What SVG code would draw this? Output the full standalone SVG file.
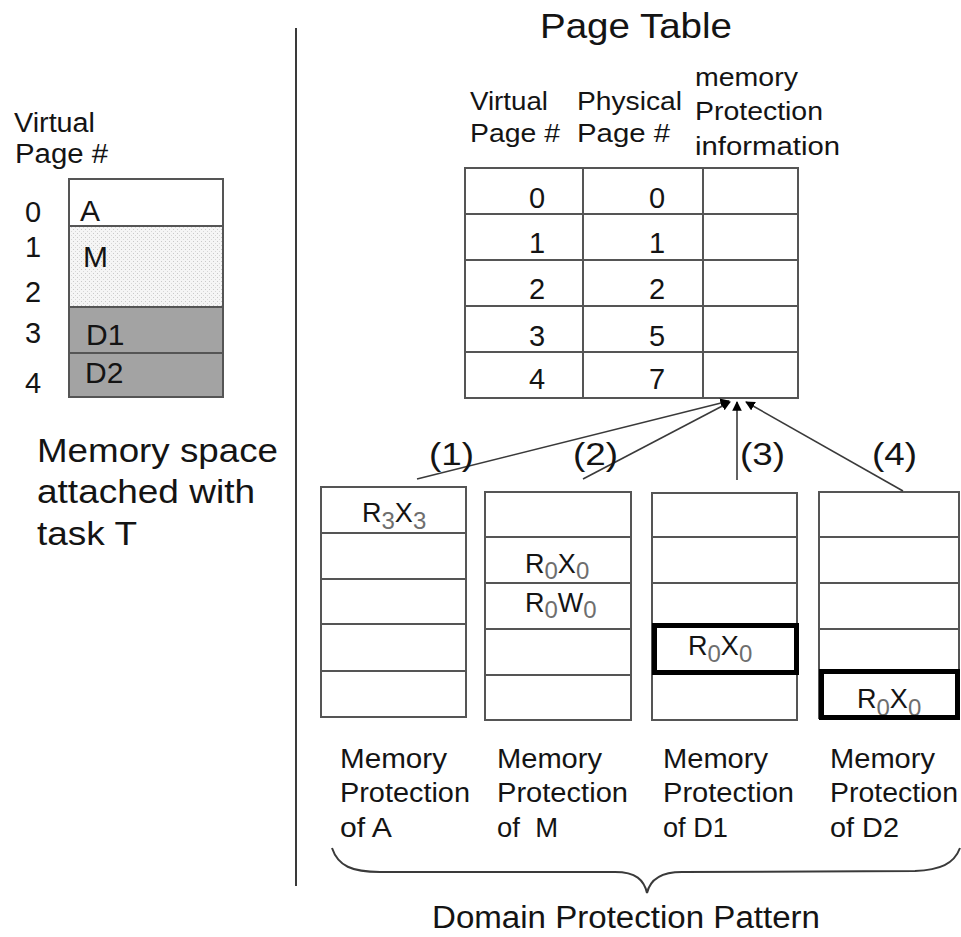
<svg xmlns="http://www.w3.org/2000/svg" width="961" height="937" viewBox="0 0 961 937">
  <style>
    text { font-family: "Liberation Sans", Arial, sans-serif; fill: #141414; }
    .cell { fill: #ffffff; stroke: #555555; stroke-width: 2; }
    .grid { stroke: #555555; stroke-width: 2; fill: none; }
    .bold { fill: none; stroke: #000000; stroke-width: 5; }
    .hdr { font-size: 26px; }
    .lbl { font-size: 27px; }
    .num { font-size: 29px; text-anchor: middle; }
    .perm { font-size: 27px; }
    .sub { font-size: 24px; fill: #6e6e6e; }
    .conn { stroke: #3a3a3a; stroke-width: 1.6; fill: none; marker-end: url(#arrow); }
  </style>
  <defs>
    <marker id="arrow" viewBox="0 0 10 10" refX="9" refY="5" markerWidth="6" markerHeight="6" orient="auto" markerUnits="strokeWidth">
      <path d="M0,0 L10,5 L0,10 z" fill="#000000"/>
    </marker>
    <pattern id="stipple" width="4" height="4" patternUnits="userSpaceOnUse">
      <rect width="4" height="4" fill="#f5f5f5"/>
      <rect x="1" y="1" width="1" height="1" fill="#c9c9c9"/>
      <rect x="3" y="3" width="1" height="1" fill="#d6d6d6"/>
    </pattern>
  </defs>

  <rect width="961" height="937" fill="#ffffff"/>

  <!-- Memory space of task T -->
  <g id="memory-space">
    <text class="lbl" x="14" y="132" textLength="81" lengthAdjust="spacingAndGlyphs">Virtual</text>
    <text class="lbl" x="15" y="163" textLength="93" lengthAdjust="spacingAndGlyphs">Page #</text>
    <text class="num" x="33" y="222">0</text>
    <text class="num" x="33" y="257">1</text>
    <text class="num" x="33" y="302">2</text>
    <text class="num" x="33" y="343">3</text>
    <text class="num" x="33" y="393">4</text>
    <rect x="69" y="179" width="154" height="47" fill="#ffffff"/>
    <rect x="69" y="226" width="154" height="81" fill="url(#stipple)"/>
    <rect x="69" y="307" width="154" height="90" fill="#a3a3a3"/>
    <path class="grid" d="M69,179 H223 V397 H69 Z M69,226 H223 M69,307 H223 M69,353 H223"/>
    <text x="80" y="221" font-size="30">A</text>
    <text x="83" y="267" font-size="30">M</text>
    <text x="86" y="345" font-size="30">D1</text>
    <text x="85" y="383" font-size="30">D2</text>
    <text x="37" y="462" font-size="34" textLength="241" lengthAdjust="spacingAndGlyphs">Memory space</text>
    <text x="37" y="503" font-size="34" textLength="218" lengthAdjust="spacingAndGlyphs">attached with</text>
    <text x="37" y="545" font-size="34" textLength="100" lengthAdjust="spacingAndGlyphs">task T</text>
  </g>

  <!-- divider -->
  <line x1="296" y1="28" x2="296" y2="886" stroke="#3a3a3a" stroke-width="2"/>

  <!-- Page table -->
  <g id="page-table">
    <text x="540" y="38" font-size="35" textLength="192" lengthAdjust="spacingAndGlyphs">Page Table</text>
    <text class="hdr" x="470" y="110" textLength="78" lengthAdjust="spacingAndGlyphs">Virtual</text>
    <text class="hdr" x="470" y="142" textLength="90" lengthAdjust="spacingAndGlyphs">Page #</text>
    <text class="hdr" x="577" y="110" textLength="105" lengthAdjust="spacingAndGlyphs">Physical</text>
    <text class="hdr" x="577" y="142" textLength="93" lengthAdjust="spacingAndGlyphs">Page #</text>
    <text class="hdr" x="695" y="86" textLength="103" lengthAdjust="spacingAndGlyphs">memory</text>
    <text class="hdr" x="695" y="120" textLength="128" lengthAdjust="spacingAndGlyphs">Protection</text>
    <text class="hdr" x="695" y="155" textLength="145" lengthAdjust="spacingAndGlyphs">information</text>
    <rect class="cell" x="465" y="168" width="333" height="230"/>
    <path class="grid" d="M583,168 V398 M703,168 V398 M465,214 H798 M465,260 H798 M465,306 H798 M465,352 H798"/>
    <text class="num" x="537" y="208">0</text><text class="num" x="657" y="208">0</text>
    <text class="num" x="537" y="253">1</text><text class="num" x="657" y="253">1</text>
    <text class="num" x="537" y="299">2</text><text class="num" x="657" y="299">2</text>
    <text class="num" x="537" y="346">3</text><text class="num" x="657" y="346">5</text>
    <text class="num" x="537" y="389">4</text><text class="num" x="657" y="389">7</text>
  </g>

  <!-- Protection tables -->
  <g id="protection-a">
    <rect class="cell" x="321" y="487" width="145" height="230"/>
    <path class="grid" d="M321,533 H466 M321,579 H466 M321,624 H466 M321,671 H466"/>
    <text class="perm" x="362" y="522">R<tspan class="sub" dy="7">3</tspan><tspan dy="-7">X</tspan><tspan class="sub" dy="7">3</tspan></text>
    <text class="lbl" x="340" y="768" textLength="107" lengthAdjust="spacingAndGlyphs">Memory</text>
    <text class="lbl" x="340" y="802" textLength="130" lengthAdjust="spacingAndGlyphs">Protection</text>
    <text class="lbl" x="340" y="837" textLength="52" lengthAdjust="spacingAndGlyphs">of A</text>
  </g>

  <g id="protection-m">
    <rect class="cell" x="485" y="492" width="146" height="228"/>
    <path class="grid" d="M485,537 H631 M485,583 H631 M485,629 H631 M485,675 H631"/>
    <text class="perm" x="525" y="573">R<tspan class="sub" dy="6">0</tspan><tspan dy="-6">X</tspan><tspan class="sub" dy="6">0</tspan></text>
    <text class="perm" x="525" y="612">R<tspan class="sub" dy="6">0</tspan><tspan dy="-6">W</tspan><tspan class="sub" dy="6">0</tspan></text>
    <text class="lbl" x="497" y="768" textLength="105" lengthAdjust="spacingAndGlyphs">Memory</text>
    <text class="lbl" x="497" y="802" textLength="131" lengthAdjust="spacingAndGlyphs">Protection</text>
    <text class="lbl" x="497" y="837" textLength="61" lengthAdjust="spacingAndGlyphs" xml:space="preserve">of  M</text>
  </g>

  <g id="protection-d1">
    <rect class="cell" x="652" y="493" width="145" height="227"/>
    <path class="grid" d="M652,537 H797 M652,583 H797"/>
    <rect class="bold" x="654.5" y="625.5" width="142" height="47"/>
    <text class="perm" x="688" y="655">R<tspan class="sub" dy="7">0</tspan><tspan dy="-7">X</tspan><tspan class="sub" dy="7">0</tspan></text>
    <text class="lbl" x="663" y="768" textLength="105" lengthAdjust="spacingAndGlyphs">Memory</text>
    <text class="lbl" x="663" y="802" textLength="131" lengthAdjust="spacingAndGlyphs">Protection</text>
    <text class="lbl" x="663" y="837" textLength="65" lengthAdjust="spacingAndGlyphs">of D1</text>
  </g>

  <g id="protection-d2">
    <rect class="cell" x="819" y="492" width="140" height="226"/>
    <path class="grid" d="M819,537 H959 M819,583 H959 M819,629 H959"/>
    <text class="perm" x="857" y="708">R<tspan class="sub" dy="8">0</tspan><tspan dy="-8">X</tspan><tspan class="sub" dy="8">0</tspan></text>
    <rect class="bold" x="821.5" y="671.5" width="136" height="46"/>
    <text class="lbl" x="830" y="768" textLength="105" lengthAdjust="spacingAndGlyphs">Memory</text>
    <text class="lbl" x="830" y="802" textLength="128" lengthAdjust="spacingAndGlyphs">Protection</text>
    <text class="lbl" x="830" y="837" textLength="69" lengthAdjust="spacingAndGlyphs">of D2</text>
  </g>

  <!-- Links from each protection table to the page table -->
  <g id="connectors">
    <line class="conn" x1="417" y1="479" x2="729" y2="401"/>
    <line class="conn" x1="583" y1="479" x2="730" y2="402"/>
    <line class="conn" x1="737" y1="480" x2="737" y2="402"/>
    <line class="conn" x1="903" y1="491" x2="746" y2="402"/>
    <text x="429" y="465" font-size="32" textLength="45" lengthAdjust="spacingAndGlyphs">(1)</text>
    <text x="573" y="465" font-size="32" textLength="45" lengthAdjust="spacingAndGlyphs">(2)</text>
    <text x="740" y="465" font-size="32" textLength="45" lengthAdjust="spacingAndGlyphs">(3)</text>
    <text x="872" y="465" font-size="32" textLength="45" lengthAdjust="spacingAndGlyphs">(4)</text>
  </g>

  <!-- Brace grouping the four protection tables -->
  <g id="domain-pattern">
    <path d="M332,848 C338,866 352,872 380,872 L615,872 C636,872 644,880 647,893 C650,880 660,872 682,872 L915,871 C940,870 954,864 960,848" fill="none" stroke="#3a3a3a" stroke-width="2"/>
    <text x="432" y="928" font-size="31" textLength="388" lengthAdjust="spacingAndGlyphs">Domain Protection Pattern</text>
  </g>
</svg>
